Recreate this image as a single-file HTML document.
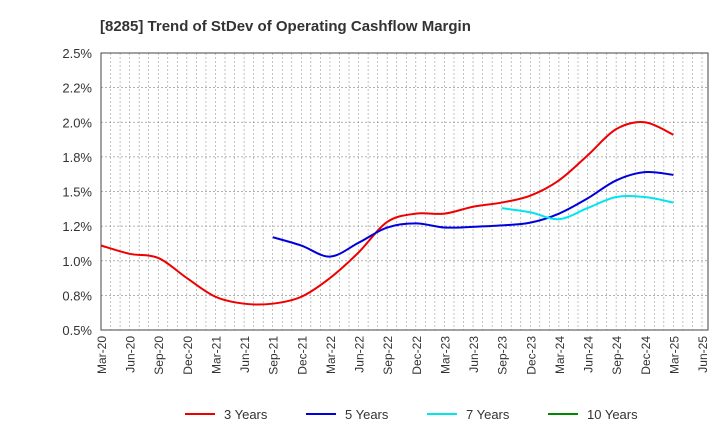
<!DOCTYPE html>
<html><head><meta charset="utf-8"><style>
body{margin:0;background:#fff;font-family:"Liberation Sans",sans-serif;}
</style></head><body>
<svg id="c" width="720" height="440" xmlns="http://www.w3.org/2000/svg"></svg>
<script>
const xLabels=["Mar-20","Jun-20","Sep-20","Dec-20","Mar-21","Jun-21","Sep-21","Dec-21","Mar-22","Jun-22","Sep-22","Dec-22","Mar-23","Jun-23","Sep-23","Dec-23","Mar-24","Jun-24","Sep-24","Dec-24","Mar-25","Jun-25"];
const yTicks=[0.5,0.75,1.0,1.25,1.5,1.75,2.0,2.25,2.5];
const yTickLabels=["0.5%","0.8%","1.0%","1.2%","1.5%","1.8%","2.0%","2.2%","2.5%"];
const s3=[1.11,1.05,1.02,0.875,0.74,0.69,0.69,0.74,0.875,1.06,1.28,1.34,1.34,1.39,1.42,1.47,1.58,1.76,1.95,2.0,1.91];
const s5=[null,null,null,null,null,null,1.17,1.11,1.03,1.13,1.24,1.27,1.24,1.245,1.255,1.275,1.34,1.45,1.58,1.64,1.62];
const s7=[null,null,null,null,null,null,null,null,null,null,null,null,null,null,1.38,1.35,1.30,1.38,1.46,1.46,1.42];
const s10=[];
const series=[{n:"3 Years",c:"#ee0000",d:s3},{n:"5 Years",c:"#0000dd",d:s5},{n:"7 Years",c:"#00e5ee",d:s7},{n:"10 Years",c:"#008800",d:s10}];
const L=101,R=708,XR=702,T=53,B=330;
const X=i=>L+(XR-L)*i/(xLabels.length-1);
const Y=v=>B-(v-0.5)/2*(B-T);
const svg=document.getElementById('c');const NS="http://www.w3.org/2000/svg";
function mk(t,a,p){const e=document.createElementNS(NS,t);for(const k in a)e.setAttribute(k,a[k]);(p||svg).appendChild(e);return e;}
let e=mk('text',{x:100,y:31,'font-size':15,'font-weight':'bold',fill:'#333'});e.textContent="[8285]  Trend of StDev of Operating Cashflow Margin";


for(let m=0;m<=63;m++){const x=L+(XR-L)*m/63;const g=mk('line',{x1:x,x2:x,y1:T,y2:B,stroke:'#999','stroke-width':0.6,'stroke-dasharray':'2,2'});

}
yTicks.forEach((v,i)=>{const g=mk('line',{x1:L,x2:R,y1:Y(v),y2:Y(v),stroke:'#999','stroke-width':0.7,'stroke-dasharray':'2,2'});


const t=mk('text',{x:92,y:Y(v)+5,'font-size':13,'text-anchor':'end',fill:'#333'});t.textContent=yTickLabels[i];

});
xLabels.forEach((l,i)=>{const t=mk('text',{transform:`translate(${X(i)+5},336) rotate(-90)`,'font-size':12,'text-anchor':'end',fill:'#333'});t.textContent=l;

});
e=mk('rect',{x:L,y:T,width:R-L,height:B-T,fill:'none',stroke:'#444','stroke-width':1});


function path(pts){let d=`M${pts[0][0]},${pts[0][1]}`;for(let i=0;i<pts.length-1;i++){const p0=pts[i-1]||pts[i],p1=pts[i],p2=pts[i+1],p3=pts[i+2]||p2;
d+=` C${p1[0]+(p2[0]-p0[0])/6},${p1[1]+(p2[1]-p0[1])/6} ${p2[0]-(p3[0]-p1[0])/6},${p2[1]-(p3[1]-p1[1])/6} ${p2[0]},${p2[1]}`;}return d;}
series.forEach(s=>{const pts=[];s.d.forEach((v,i)=>{if(v!=null)pts.push([X(i),Y(v)]);});if(pts.length<2)return;
const p=mk('path',{d:path(pts),fill:'none',stroke:s.c,'stroke-width':2});

});
const lx=[185,306,427,548];
series.forEach((s,i)=>{const g=mk('g',{});


mk('line',{x1:lx[i],x2:lx[i]+30,y1:414,y2:414,stroke:s.c,'stroke-width':2},g);
const t=mk('text',{x:lx[i]+39,y:419,'font-size':13,fill:'#333'},g);t.textContent=s.n;});
</script>
</body></html>
